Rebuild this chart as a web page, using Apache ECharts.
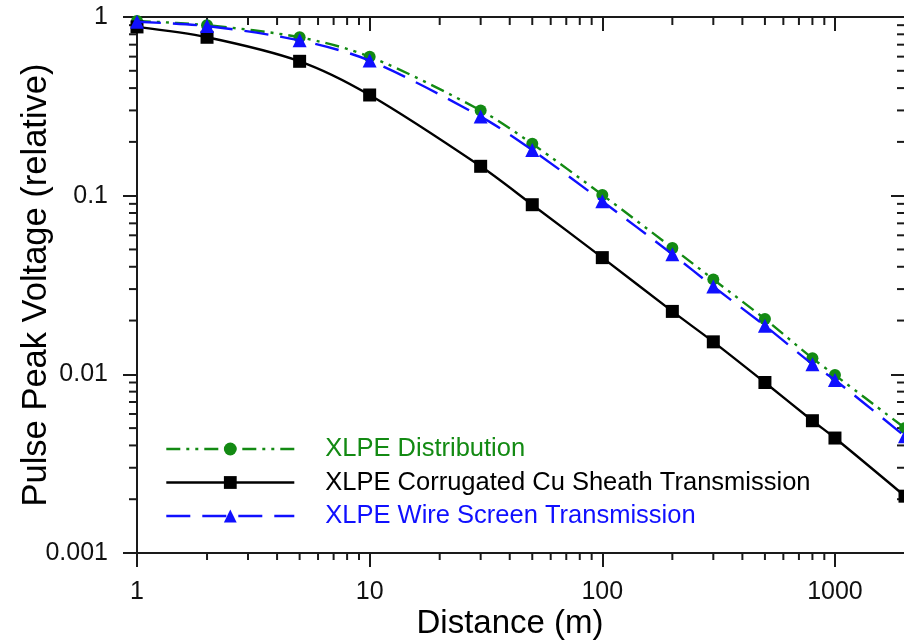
<!DOCTYPE html>
<html>
<head>
<meta charset="utf-8">
<script src="https://cdn.jsdelivr.net/npm/echarts@6/dist/echarts.min.js"></script>
<style>
html,body{margin:0;padding:0;background:#fff;}
#chart{width:904px;height:640px;}
</style>
</head>
<body>
<div id="chart"></div>
<script>
// ---- data ----
const distances = [1, 2, 5, 10, 30, 50, 100, 200, 300, 500, 800, 1000, 2000];
const distribution = [0.95, 0.90, 0.77, 0.60, 0.30, 0.195, 0.101, 0.051, 0.034, 0.0204, 0.0123, 0.0099, 0.0050];
const corrugated = [0.88, 0.77, 0.565, 0.366, 0.146, 0.089, 0.045, 0.0225, 0.0152, 0.0090, 0.0055, 0.0044, 0.00208];
const wireScreen = [0.94, 0.89, 0.74, 0.57, 0.277, 0.18, 0.093, 0.047, 0.031, 0.0187, 0.0114, 0.0093, 0.0045];
const seriesNames = ['XLPE Distribution', 'XLPE Corrugated Cu Sheath Transmission', 'XLPE Wire Screen Transmission'];
const xTickLabels = ['1', '10', '100', '1000'];
const yTickLabels = ['0.001', '0.01', '0.1', '1'];
const xMinorTicks = [2,3,4,5,6,7,8,9,20,30,40,50,60,70,80,90,200,300,400,500,600,700,800,900];
const yMinorTicks = [0.002,0.003,0.004,0.005,0.006,0.007,0.008,0.009,0.02,0.03,0.04,0.05,0.06,0.07,0.08,0.09,0.2,0.3,0.4,0.5,0.6,0.7,0.8,0.9];

const FONT = '"Liberation Sans", Arial, Helvetica, sans-serif';
const AXIS_COLOR = '#1a1a1a';
const GREEN = '#138a13';
const BLACK = '#000000';
const BLUE = '#1010ff';

function pairs(ys){ return distances.map((d,i)=>[d, ys[i]]); }
function decadeLabel(v, labels, minExp){
  const e = Math.log10(v);
  const r = Math.round(e);
  if (Math.abs(e - r) > 1e-6) return '';
  return labels[r - minExp] || '';
}

const chart = echarts.init(document.getElementById('chart'), null, {renderer:'canvas'});

const axisLineStyle = {color: AXIS_COLOR, width: 2};

const option = {
  backgroundColor: '#ffffff',
  animation: false,
  textStyle: {fontFamily: FONT},
  grid: {left: 137, top: 17, right: -1, bottom: 87, containLabel: false, outerBoundsMode: 'none'},
  legend: {
    orient: 'vertical',
    left: 160,
    top: 431,
    itemWidth: 128,
    itemHeight: 16,
    itemGap: 7.5,
    selectedMode: false,
    lineStyle: {width: 2.6},
    textStyle: {fontFamily: FONT, fontSize: 25.5, lineHeight: 25, padding: [0,0,0,26]},
    data: [
      {name: seriesNames[0], textStyle: {color: GREEN}},
      {name: seriesNames[1], textStyle: {color: BLACK}},
      {name: seriesNames[2], textStyle: {color: BLUE}}
    ]
  },
  xAxis: [
    {
      type: 'log', logBase: 10, min: 1, max: 2000, position: 'bottom',
      name: 'Distance (m)', nameLocation: 'middle', nameGap: 54, nameMoveOverlap: false,
      nameTextStyle: {fontFamily: FONT, fontSize: 33, color: '#000', padding: [0, 22, 0, 0]},
      axisLine: {show: true, lineStyle: axisLineStyle},
      axisTick: {show: true, inside: false, length: 14, lineStyle: axisLineStyle},
      axisLabel: {show: true, margin: 27, fontFamily: FONT, fontSize: 25, color: '#111',
        showMaxLabel: false,
        formatter: v => decadeLabel(v, xTickLabels, 0)},
      splitLine: {show: false}
    },
    {
      type: 'log', logBase: 10, min: 1, max: 2000, position: 'top',
      axisLine: {show: true, lineStyle: axisLineStyle},
      axisTick: {show: true, inside: true, length: 14, lineStyle: axisLineStyle},
      axisLabel: {show: false},
      splitLine: {show: false}
    }
  ],
  yAxis: [
    {
      type: 'log', logBase: 10, min: 0.001, max: 1, position: 'left',
      name: 'Pulse Peak Voltage (relative)', nameLocation: 'middle', nameGap: 83, nameMoveOverlap: false,
      nameTextStyle: {fontFamily: FONT, fontSize: 34.5, color: '#000'},
      axisLine: {show: true, lineStyle: axisLineStyle},
      axisTick: {show: true, inside: false, length: 14, lineStyle: axisLineStyle},
      axisLabel: {show: true, margin: 29, fontFamily: FONT, fontSize: 25, color: '#111',
        formatter: v => decadeLabel(v, yTickLabels, -3)},
      splitLine: {show: false}
    },
    {
      type: 'log', logBase: 10, min: 0.001, max: 1, position: 'right',
      axisLine: {show: true, lineStyle: axisLineStyle},
      axisTick: {show: true, inside: true, length: 14, lineStyle: axisLineStyle},
      axisLabel: {show: false},
      splitLine: {show: false}
    }
  ],
  series: [
    {
      name: 'xMinorTicks', type: 'custom', xAxisIndex: 0, yAxisIndex: 0, silent: true, clip: false,
      data: xMinorTicks.map(v => [v, 1]),
      renderItem: function(params, api){
        const cs = params.coordSys;
        const x = api.coord([api.value(0), 1])[0];
        const st = {stroke: AXIS_COLOR, lineWidth: 2};
        return {type: 'group', children: [
          {type: 'line', shape: {x1: x, y1: cs.y + cs.height, x2: x, y2: cs.y + cs.height + 7}, style: st},
          {type: 'line', shape: {x1: x, y1: cs.y, x2: x, y2: cs.y + 8}, style: st}
        ]};
      }
    },
    {
      name: 'yMinorTicks', type: 'custom', xAxisIndex: 0, yAxisIndex: 0, silent: true, clip: false,
      data: yMinorTicks.map(v => [1, v]),
      renderItem: function(params, api){
        const cs = params.coordSys;
        const y = api.coord([1, api.value(1)])[1];
        const st = {stroke: AXIS_COLOR, lineWidth: 2};
        return {type: 'group', children: [
          {type: 'line', shape: {x1: cs.x - 8, y1: y, x2: cs.x, y2: y}, style: st},
          {type: 'line', shape: {x1: cs.x + cs.width - 8, y1: y, x2: cs.x + cs.width, y2: y}, style: st}
        ]};
      }
    },
    {
      name: seriesNames[0], type: 'line', xAxisIndex: 0, yAxisIndex: 0,
      data: pairs(distribution), smooth: 0.3,
      symbol: 'circle', symbolSize: 12, showAllSymbol: true,
      lineStyle: {color: GREEN, width: 2.4, type: [14, 6, 3, 6, 3, 6]},
      itemStyle: {color: GREEN}, z: 3
    },
    {
      name: seriesNames[1], type: 'line', xAxisIndex: 0, yAxisIndex: 0,
      data: pairs(corrugated), smooth: 0.3,
      symbol: 'rect', symbolSize: 13, showAllSymbol: true,
      lineStyle: {color: BLACK, width: 2.4, type: 'solid'},
      itemStyle: {color: BLACK}, z: 3
    },
    {
      name: seriesNames[2], type: 'line', xAxisIndex: 0, yAxisIndex: 0,
      data: pairs(wireScreen), smooth: 0.3,
      symbol: 'triangle', symbolSize: 14, showAllSymbol: true,
      lineStyle: {color: BLUE, width: 2.4, type: [24, 12]},
      itemStyle: {color: BLUE}, z: 4
    }
  ]
};
chart.setOption(option);
</script>
</body>
</html>
